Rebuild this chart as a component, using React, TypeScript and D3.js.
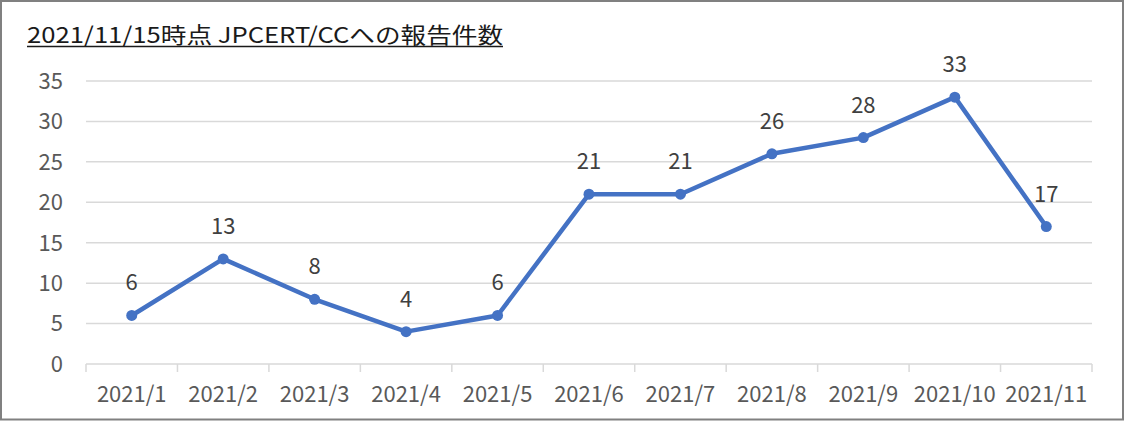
import React, { useEffect, useRef } from 'react';
import * as d3 from 'd3';

const months = ['2021/1', '2021/2', '2021/3', '2021/4', '2021/5', '2021/6', '2021/7', '2021/8', '2021/9', '2021/10', '2021/11'];
const reports = [6, 13, 8, 4, 6, 21, 21, 26, 28, 33, 17];
const yTicks = [0, 5, 10, 15, 20, 25, 30, 35];
const title = '2021/11/15時点 JPCERT/CCへの報告件数';

const width = 1125;
const height = 421;
const margin = { top: 81, right: 33, bottom: 57, left: 86 };
const font = '"Noto Sans CJK JP", "Noto Sans", sans-serif';

export default function App() {
  const svgRef = useRef<SVGSVGElement>(null);

  useEffect(() => {
    if (!svgRef.current) return;
    const svg = d3.select(svgRef.current);
    svg.selectAll('*').remove();

    const innerWidth = width - margin.left - margin.right;
    const innerHeight = height - margin.top - margin.bottom;

    svg.append('rect')
      .attr('width', width).attr('height', height)
      .attr('fill', '#fff');

    // title, stretched to the width of the original and underlined by hand
    svg.append('text')
      .attr('x', 27)
      .attr('y', 42.5)
      .attr('textLength', 476)
      .attr('lengthAdjust', 'spacingAndGlyphs')
      .style('font-family', font)
      .style('font-size', '22px')
      .style('fill', '#1a1a1a')
      .text(title);

    svg.append('line')
      .attr('x1', 27).attr('x2', 503)
      .attr('y1', 46.5).attr('y2', 46.5)
      .attr('stroke', '#1a1a1a')
      .attr('stroke-width', 1.3);

    const g = svg.append('g')
      .attr('transform', `translate(${margin.left}, ${margin.top})`);

    const x = d3.scaleBand<string>()
      .domain(months)
      .range([0, innerWidth]);

    const y = d3.scaleLinear()
      .domain([0, 35])
      .range([innerHeight, 0]);

    // grid
    g.append('g')
      .selectAll('line')
      .data(yTicks.slice(1))
      .enter().append('line')
      .attr('x1', 0).attr('x2', innerWidth)
      .attr('y1', d => y(d)).attr('y2', d => y(d))
      .attr('stroke', '#d9d9d9')
      .attr('stroke-width', 1.5);

    // y labels
    g.append('g')
      .selectAll('text')
      .data(yTicks)
      .enter().append('text')
      .attr('x', -23)
      .attr('y', d => y(d))
      .attr('dy', '0.36em')
      .attr('text-anchor', 'end')
      .style('font-family', font)
      .style('font-size', '22px')
      .style('fill', '#595959')
      .text(d => d);

    // x axis
    const xAxis = g.append('g')
      .attr('transform', `translate(0, ${innerHeight})`);

    xAxis.append('line')
      .attr('x1', 0).attr('x2', innerWidth)
      .attr('stroke', '#d9d9d9')
      .attr('stroke-width', 1.5);

    const bounds = months.map(m => x(m) as number).concat([innerWidth]);
    xAxis.selectAll('.tick')
      .data(bounds)
      .enter().append('line')
      .attr('x1', d => d).attr('x2', d => d)
      .attr('y1', 0).attr('y2', 8)
      .attr('stroke', '#d9d9d9')
      .attr('stroke-width', 1.5);

    xAxis.selectAll('.label')
      .data(months)
      .enter().append('text')
      .attr('x', d => (x(d) as number) + x.bandwidth() / 2)
      .attr('y', 37.5)
      .attr('text-anchor', 'middle')
      .style('font-family', font)
      .style('font-size', '22px')
      .style('fill', '#595959')
      .text(d => d);

    const cx = (i: number) => (x(months[i]) as number) + x.bandwidth() / 2;

    const line = d3.line<number>()
      .x((d, i) => cx(i))
      .y(d => y(d));

    g.append('path')
      .datum(reports)
      .attr('fill', 'none')
      .attr('stroke', '#4472c4')
      .attr('stroke-width', 4.5)
      .attr('stroke-linejoin', 'round')
      .attr('d', line);

    g.selectAll('.dot')
      .data(reports)
      .enter().append('circle')
      .attr('cx', (d, i) => cx(i))
      .attr('cy', d => y(d))
      .attr('r', 5.5)
      .attr('fill', '#4472c4');

    g.selectAll('.value')
      .data(reports)
      .enter().append('text')
      .attr('x', (d, i) => cx(i))
      .attr('y', d => y(d) - 25)
      .attr('text-anchor', 'middle')
      .style('font-family', font)
      .style('font-size', '22px')
      .style('fill', '#404040')
      .text(d => d);

    // outer frame, drawn last so nothing covers it
    svg.append('rect')
      .attr('x', 1).attr('y', 1)
      .attr('width', width - 3).attr('height', height - 2.5)
      .attr('fill', 'none')
      .attr('stroke', '#808080')
      .attr('stroke-width', 2);
  }, []);

  return (
    <div>
      <svg
        ref={svgRef}
        width={width}
        height={height}
        style={{ position: 'absolute', left: 0, top: 0, display: 'block' }}
      />
    </div>
  );
}
